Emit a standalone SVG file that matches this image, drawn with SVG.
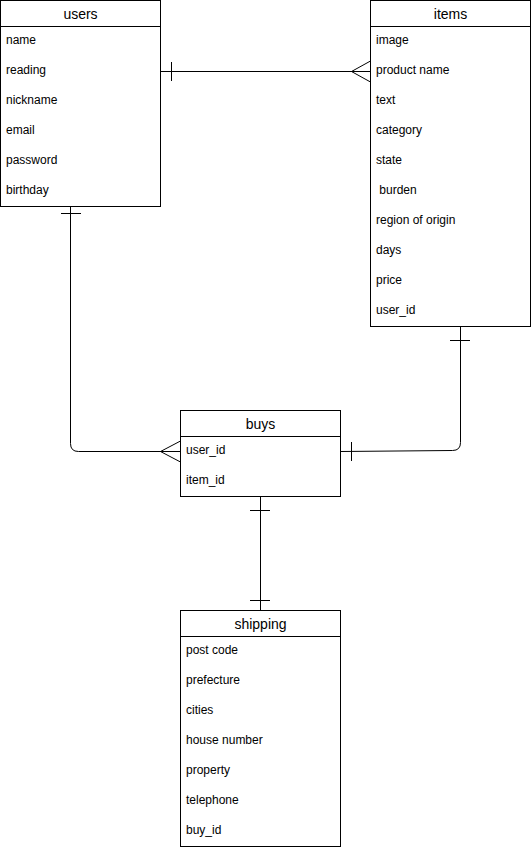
<svg xmlns="http://www.w3.org/2000/svg" width="531" height="850" viewBox="0 0 531 850">
<style>
.box{fill:#fff;stroke:#000;stroke-width:1}
.hdr{font-family:"Liberation Sans",Arial,sans-serif;font-size:14px;text-anchor:middle;fill:#000}
.row{font-family:"Liberation Sans",Arial,sans-serif;font-size:12px;fill:#000;white-space:pre}
.c{fill:none;stroke:#000;stroke-width:1}
</style>
<rect width="531" height="850" fill="#fff"/>
<g id="connectors">
<path class="c" d="M160.5 71.5 H370.5"/>
<path class="c" d="M171.5 62 V81"/>
<path class="c" d="M370.5 61 L351.5 71.5 L370.5 82"/>
<path class="c" d="M70.5 207 V443.5 Q70.5 451.5 78.5 451.5 H180.5"/>
<path class="c" d="M61 213.5 H81"/>
<path class="c" d="M180.5 441 L160.5 451.5 L180.5 462"/>
<path class="c" d="M460.5 327 V442.5 Q460.5 450.5 452.5 450.5 L340.5 451.5"/>
<path class="c" d="M450 340.5 H470"/>
<path class="c" d="M351.5 442 V461"/>
<path class="c" d="M260.5 497 V610.5"/>
<path class="c" d="M250 510.5 H270"/>
<path class="c" d="M250 600.5 H270"/>
</g>
<g id="users">
<rect class="box" x="0.5" y="0.5" width="160" height="206"/>
<line class="c" x1="0.5" y1="26.5" x2="160.5" y2="26.5"/>
<text class="hdr" x="80.5" y="19">users</text>
<text class="row" x="6" y="44">name</text>
<text class="row" x="6" y="74">reading</text>
<text class="row" x="6" y="104">nickname</text>
<text class="row" x="6" y="134">email</text>
<text class="row" x="6" y="164">password</text>
<text class="row" x="6" y="194">birthday</text>
</g>
<g id="items">
<rect class="box" x="370.5" y="0.5" width="160" height="326"/>
<line class="c" x1="370.5" y1="26.5" x2="530.5" y2="26.5"/>
<text class="hdr" x="450.5" y="19">items</text>
<text class="row" x="376" y="44">image</text>
<text class="row" x="376" y="74">product name</text>
<text class="row" x="376" y="104">text</text>
<text class="row" x="376" y="134">category</text>
<text class="row" x="376" y="164">state</text>
<text class="row" x="376" y="194"> burden</text>
<text class="row" x="376" y="224">region of origin</text>
<text class="row" x="376" y="254">days</text>
<text class="row" x="376" y="284">price</text>
<text class="row" x="376" y="314">user_id</text>
</g>
<g id="buys">
<rect class="box" x="180.5" y="410.5" width="160" height="86"/>
<line class="c" x1="180.5" y1="436.5" x2="340.5" y2="436.5"/>
<text class="hdr" x="260.5" y="429">buys</text>
<text class="row" x="186" y="454">user_id</text>
<text class="row" x="186" y="484">item_id</text>
</g>
<g id="shipping">
<rect class="box" x="180.5" y="610.5" width="160" height="236"/>
<line class="c" x1="180.5" y1="636.5" x2="340.5" y2="636.5"/>
<text class="hdr" x="260.5" y="629">shipping</text>
<text class="row" x="186" y="654">post code</text>
<text class="row" x="186" y="684">prefecture</text>
<text class="row" x="186" y="714">cities</text>
<text class="row" x="186" y="744">house number</text>
<text class="row" x="186" y="774">property</text>
<text class="row" x="186" y="804">telephone</text>
<text class="row" x="186" y="834">buy_id</text>
</g>
</svg>
